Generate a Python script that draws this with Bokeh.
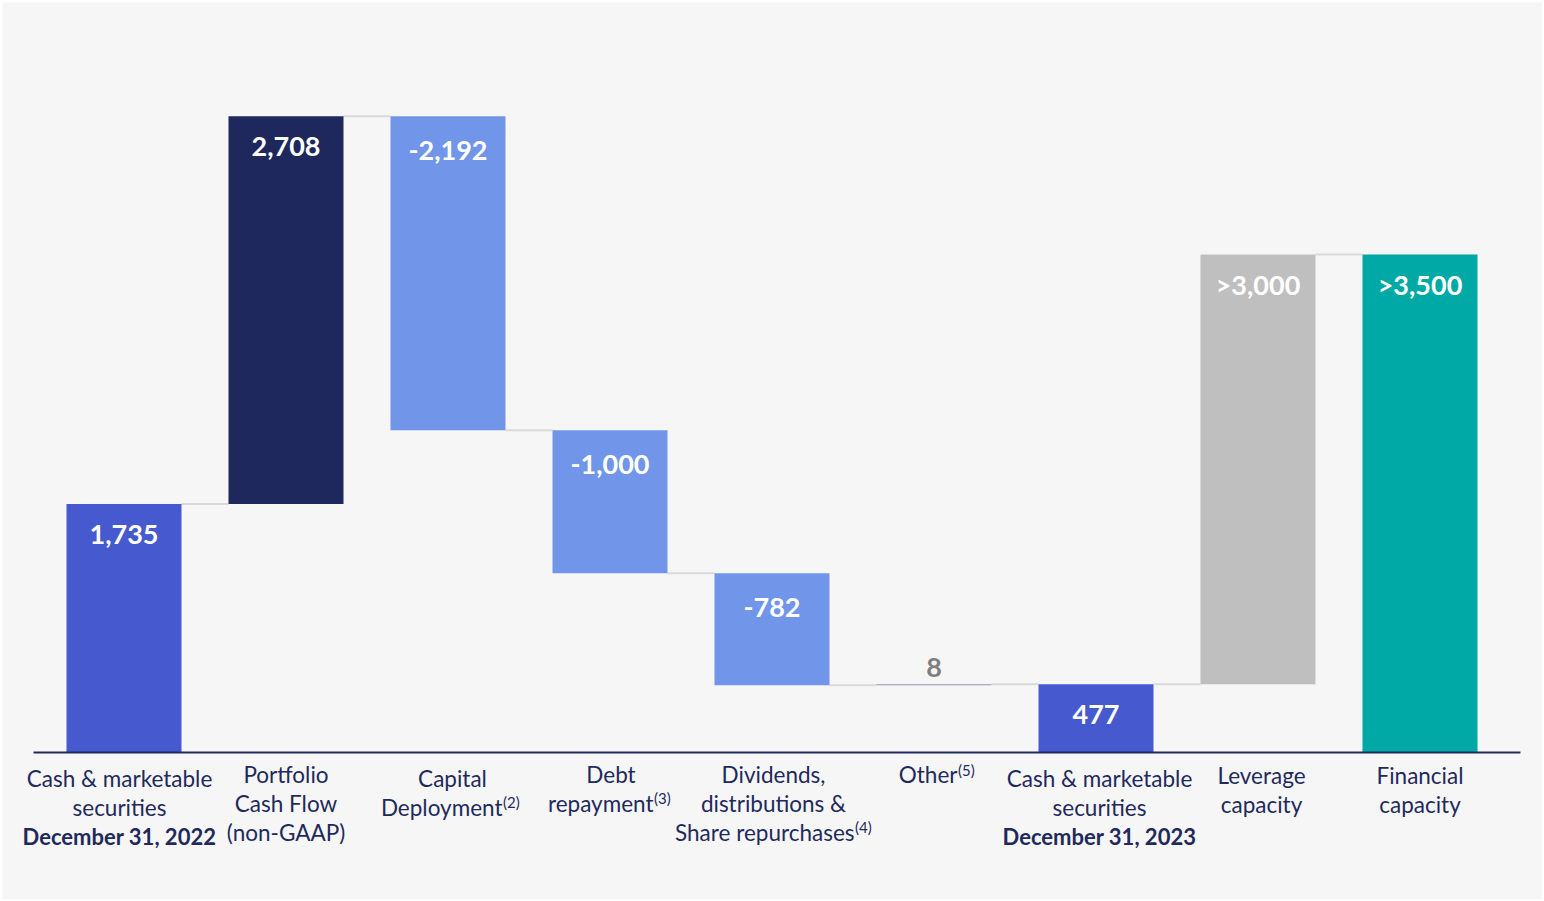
from bokeh.plotting import figure
from bokeh.models import ColumnDataSource, Range1d
from bokeh.embed import file_html
from bokeh.resources import INLINE
from bokeh.core.properties import value

# ---------------- data ----------------
categories = ["Cash & marketable securities December 31, 2022",
              "Portfolio Cash Flow (non-GAAP)",
              "Capital Deployment(2)",
              "Debt repayment(3)",
              "Dividends, distributions & Share repurchases(4)",
              "Other(5)",
              "Cash & marketable securities December 31, 2023",
              "Leverage capacity",
              "Financial capacity"]
steps = [1735, 2708, -2192, -1000, -782, 8, 0, 3000, 0]
kinds = ["total", "delta", "delta", "delta", "delta", "delta", "total", "delta", "total"]
value_labels = ["1,735", "2,708", "-2,192", "-1,000", "-782", "8", "477", ">3,000", ">3,500"]
label_lines = [["Cash & marketable", "securities", "December 31, 2022"],
               ["Portfolio", "Cash Flow", "(non-GAAP)"],
               ["Capital", "Deployment"],
               ["Debt", "repayment"],
               ["Dividends,", "distributions &", "Share repurchases"],
               ["Other"],
               ["Cash & marketable", "securities", "December 31, 2023"],
               ["Leverage", "capacity"],
               ["Financial", "capacity"]]
footnotes = [None, None, "(2)", "(3)", "(4)", "(5)", None, None, None]
bold_last = [True, False, False, False, False, False, True, False, False]

# ---------------- styles ----------------
bar_colors = ["#4659CE", "#1F285C", "#7196E9", "#7196E9", "#7196E9", "#8C94B8",
              "#4659CE", "#BFBFBF", "#00A9A5"]
BG = "#F6F6F6"
NAVY = "#1F2A5C"
FONT = "Lato"
W = 0.71
label_dx = [-4.5, 0, 4.5, 1, 1.5, 5.5, 3.5, 3.5, 0]      # px shift of label block
label_top = [26, 22, 26, 22, 22, 22, 26, 23, 23]          # px below baseline, first line centre
sup_shift = {2: 54.5, 3: 43.5, 4: 82.5, 5: 23.5}          # px: end of main text / start of footnote
LINE = 28.8

# ---------------- geometry from data ----------------
xs = list(range(len(categories)))
bottoms, tops, ends = [], [], []
running = 0
for s, k in zip(steps, kinds):
    if k == "delta":
        b = running
        running += s
        bottoms.append(min(b, running))
        tops.append(max(b, running))
    else:
        running += s
        bottoms.append(0)
        tops.append(running)
    ends.append(running)

p = figure(width=1540, height=897, output_backend="svg", toolbar_location=None,
           x_range=Range1d(-0.75, 8.7562), y_range=Range1d(-1026.5, 5237.5),
           min_border=0, background_fill_color=BG, border_fill_color=BG,
           outline_line_color=None)
p.margin = (2, 2, 2, 2)
p.xaxis.visible = False
p.yaxis.visible = False
p.xgrid.visible = False
p.ygrid.visible = False

# connectors
cx0 = [x + W / 2 for x in xs[:-1]]
cx1 = [x + 1 - W / 2 for x in xs[:-1]]
cy = ends[:-1]
p.segment(x0=cx0, y0=cy, x1=cx1, y1=cy, line_color="#DADADA", line_width=2)

# bars
src = ColumnDataSource(dict(x=xs, bottom=bottoms, top=tops, color=bar_colors))
p.vbar(x="x", width=W, bottom="bottom", top="top", fill_color="color",
       line_color=None, source=src)

# baseline axis line
p.segment(x0=[-0.5586], y0=[0], x1=[8.62], y1=[0], line_color=NAVY, line_width=2)

# value labels
vx, vy, vt, voff, vcol = [], [], [], [], []
for i in xs:
    vx.append(i)
    vt.append(value_labels[i])
    vy.append(tops[i])
    if steps[i] < 0:
        voff.append(34); vcol.append("white")
    elif kinds[i] == "delta" and abs(tops[i] - bottoms[i]) < 100:
        voff.append(-17); vcol.append("#7F7F7F")
    else:
        voff.append(30); vcol.append("white")
vsrc = ColumnDataSource(dict(x=vx, y=vy, t=vt, off=voff, c=vcol))
p.text(x="x", y="y", text="t", y_offset="off", text_color="c", source=vsrc,
       text_font=value(FONT), text_font_style="bold", text_font_size="27px",
       text_align="center", text_baseline="middle")

# category labels
rows = dict(x=[], t=[], off=[], xo=[], align=[])
bold_rows = dict(x=[], t=[], off=[], xo=[])
sup_rows = dict(x=[], t=[], off=[], xo=[])
for i, lines in enumerate(label_lines):
    for j, line in enumerate(lines):
        off = label_top[i] + LINE * j
        last = j == len(lines) - 1
        if last and bold_last[i]:
            bold_rows["x"].append(i); bold_rows["t"].append(line)
            bold_rows["off"].append(off); bold_rows["xo"].append(label_dx[i])
        elif last and footnotes[i]:
            rows["x"].append(i); rows["t"].append(line); rows["off"].append(off)
            rows["xo"].append(sup_shift[i]); rows["align"].append("right")
            sup_rows["x"].append(i); sup_rows["t"].append(footnotes[i])
            sup_rows["off"].append(off - 5); sup_rows["xo"].append(sup_shift[i] + 0.5)
        else:
            rows["x"].append(i); rows["t"].append(line); rows["off"].append(off)
            rows["xo"].append(label_dx[i]); rows["align"].append("center")
for d in (rows, bold_rows, sup_rows):
    d["y"] = [0] * len(d["x"])

p.text(x="x", y="y", text="t", x_offset="xo", y_offset="off", text_align="align",
       source=ColumnDataSource(rows), text_color=NAVY, text_font=value(FONT),
       text_font_size="22.5px", text_baseline="middle")
p.text(x="x", y="y", text="t", x_offset="xo", y_offset="off", source=ColumnDataSource(bold_rows),
       text_color=NAVY, text_font=value(FONT), text_font_style="bold",
       text_font_size="22px", text_align="center", text_baseline="middle")
p.text(x="x", y="y", text="t", x_offset="xo", y_offset="off", source=ColumnDataSource(sup_rows),
       text_color=NAVY, text_font=value(FONT), text_font_size="15px",
       text_align="left", text_baseline="middle")

open("out.html", "w").write(file_html(p, INLINE))
